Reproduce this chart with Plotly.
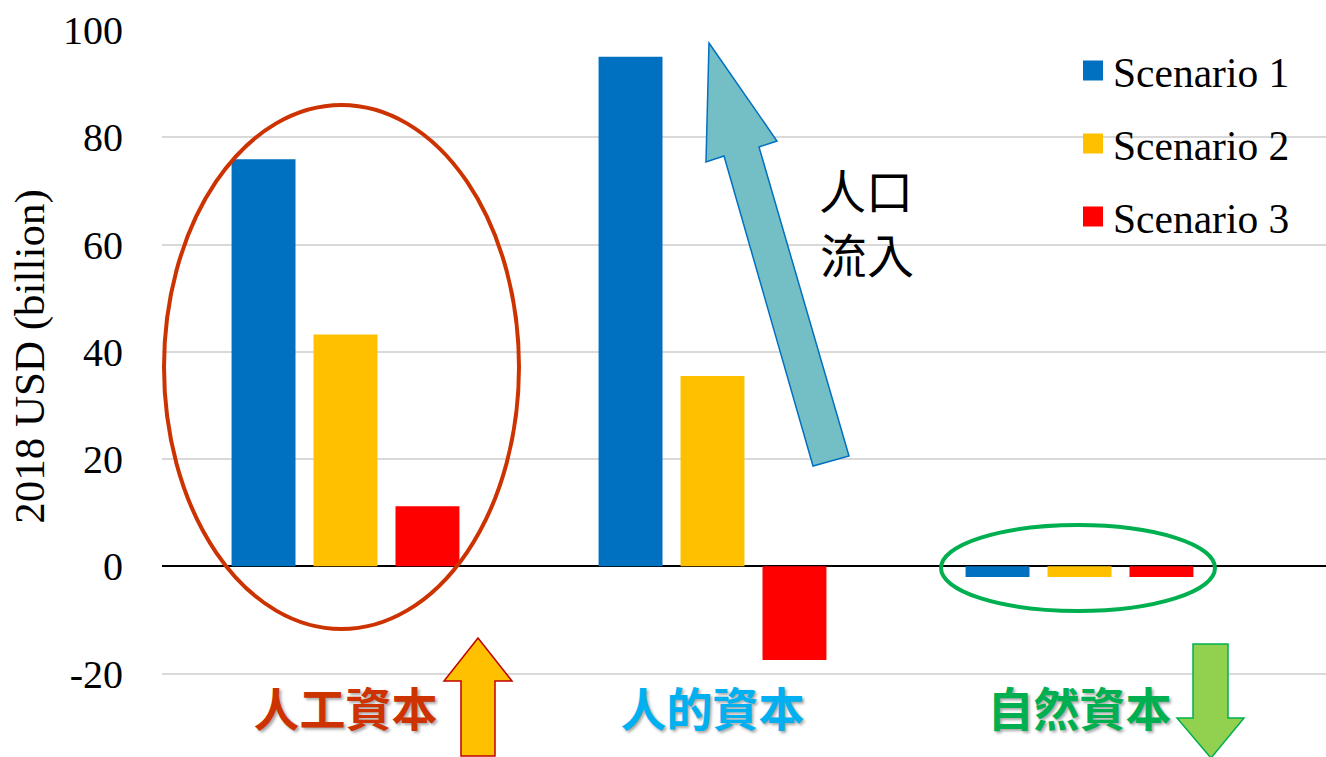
import plotly.graph_objects as go

# Capital categories (x axis) and the three scenarios
categories = ["人工資本", "人的資本", "自然資本"]
category_colors = ["#CC3300", "#00B0F0", "#00B050"]
scenario_names = ["Scenario 1", "Scenario 2", "Scenario 3"]
scenario_colors = ["#0070C0", "#FFC000", "#FF0000"]

# Values in 2018 USD (billion)
scenario1 = [75.9, 95.0, -2.0]
scenario2 = [43.2, 35.5, -2.0]
scenario3 = [11.2, -17.5, -2.0]

y_ticks = [-20, 0, 20, 40, 60, 80, 100]
y_tick_text = ["-20", "0", "20", "40", "60", "80", "100"]

W, H = 1326, 757
ML, MR, MT, MB = 162, 0, 30, 74
PW, PH = W - ML - MR, H - MT - MB


def px(x):
    """Pixel column -> paper x."""
    return (x - ML) / PW


def py(y):
    """Pixel row -> paper y."""
    return (H - MB - y) / PH


def poly(points):
    return "M " + " L ".join(f"{px(a):.5f},{py(b):.5f}" for a, b in points) + " Z"


fig = go.Figure()
for name, color, vals in zip(scenario_names, scenario_colors,
                             [scenario1, scenario2, scenario3]):
    fig.add_trace(go.Bar(
        x=categories, y=vals, name=name, legendgroup=name, showlegend=False,
        marker=dict(color=color, line=dict(width=0)),
    ))
    # square legend key for the scenario
    fig.add_trace(go.Scatter(
        x=[None], y=[None], mode="markers", name=name, legendgroup=name,
        marker=dict(symbol="square", size=16, color=color,
                    line=dict(color=color, width=4)),
    ))

tick_text = [f'<span style="color:{c}">{t}</span>'
             for t, c in zip(categories, category_colors)]

serif = "'Times New Roman', 'Liberation Serif', Times, 'DejaVu Serif', serif"
cjk = "Noto Sans CJK TC"

fig.update_layout(
    width=W, height=H,
    margin=dict(l=ML, r=MR, t=MT, b=MB, pad=0),
    paper_bgcolor="white", plot_bgcolor="white",
    barmode="group", bargap=0.33, bargroupgap=0.22,
    font=dict(family=serif, color="black"),
    showlegend=True,
    legend=dict(
        x=px(1073), y=py(37), xanchor="left", yanchor="top",
        font=dict(family=serif, size=41.5, color="black"),
        bgcolor="rgba(0,0,0,0)", tracegroupgap=16,
        traceorder="grouped",
    ),
    xaxis=dict(
        type="category", range=[-0.5, -0.5 + PW / 367.0],
        tickmode="array", tickvals=categories, ticktext=tick_text,
        tickfont=dict(family=cjk, size=46, weight="bold",
                      shadow="2px 2px 3px rgba(0,0,0,0.35)"),
        showgrid=False, showline=False, ticks="", ticklabelstandoff=-4,
    ),
    yaxis=dict(
        range=[-(PH / 5.3625 - 100), 100],
        tickmode="array", tickvals=y_ticks, ticktext=y_tick_text,
        tickfont=dict(family=serif, size=40, color="black"),
        showgrid=True, gridcolor="#D9D9D9", gridwidth=2,
        zeroline=True, zerolinecolor="black", zerolinewidth=2,
        showline=False, ticks="", ticklabelstandoff=38,
        title=dict(text="2018 USD (billion)",
                   font=dict(family=serif, size=43, color="black"),
                   standoff=4),
    ),
)

shapes = [
    # ring around the built-capital bars
    dict(type="circle", xref="paper", yref="paper",
         x0=px(164), x1=px(519), y0=py(629), y1=py(105),
         line=dict(color="#CC3300", width=4)),
    # ring around the natural-capital bars
    dict(type="circle", xref="paper", yref="paper",
         x0=px(941), x1=px(1215), y0=py(611), y1=py(525),
         line=dict(color="#00B050", width=4)),
    # population inflow arrow
    dict(type="path", xref="paper", yref="paper",
         path=poly([(709, 43), (777, 141), (759, 147), (849, 456),
                    (813, 466), (724, 156), (706, 162)]),
         fillcolor="#74BFC6", line=dict(color="#0070C0", width=1.5)),
    # up arrow beside 人工資本
    dict(type="path", xref="paper", yref="paper",
         path=poly([(478, 638), (512, 681), (495, 681), (495, 756),
                    (461, 756), (461, 681), (444, 681)]),
         fillcolor="#FFC000", line=dict(color="#C00000", width=1.5)),
    # down arrow beside 自然資本
    dict(type="path", xref="paper", yref="paper",
         path=poly([(1193, 644), (1228, 644), (1228, 718), (1244, 718),
                    (1211, 758), (1177, 718), (1193, 718)]),
         fillcolor="#92D050", line=dict(color="#00B050", width=1.5)),
]
fig.update_layout(shapes=shapes)

for text, cx, cy in [("人口", 866, 188), ("流入", 867, 252)]:
    fig.add_annotation(
        x=px(cx), y=py(cy), xref="paper", yref="paper",
        text=text, showarrow=False, xanchor="center", yanchor="middle",
        font=dict(family=cjk, size=47, color="black"),
    )

fig.write_html("out.html")
